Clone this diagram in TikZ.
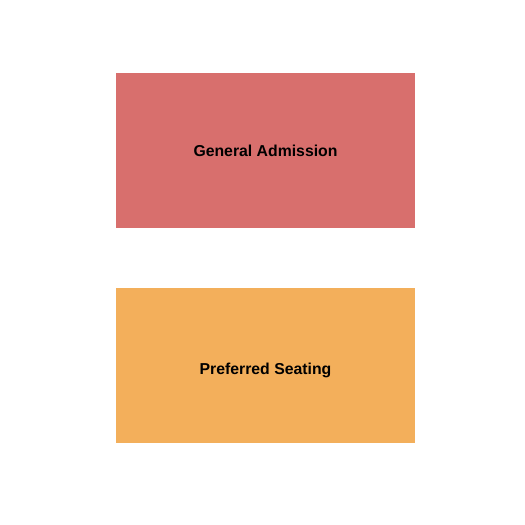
\documentclass[tikz,border=0pt]{standalone}
\usepackage{fontspec}
\setmainfont{Liberation Sans}
\definecolor{garea}{HTML}{D86F6D}
\definecolor{parea}{HTML}{F3AF5B}
\begin{document}
\begin{tikzpicture}[x=1pt,y=-1pt,
  section/.style={inner sep=0pt,font=\fontsize{15.8}{19}\selectfont\bfseries}]
\useasboundingbox (0,0) rectangle (525,525);
\fill[garea] (116,73) rectangle (415,227.5);
\fill[parea] (116,287.7) rectangle (415,442.7);
\node[section] (ga) at (265.5,151.3) {General Admission};
\node[section] (ps) at (265.5,370.5) {Preferred Seating};
\end{tikzpicture}
\end{document}
